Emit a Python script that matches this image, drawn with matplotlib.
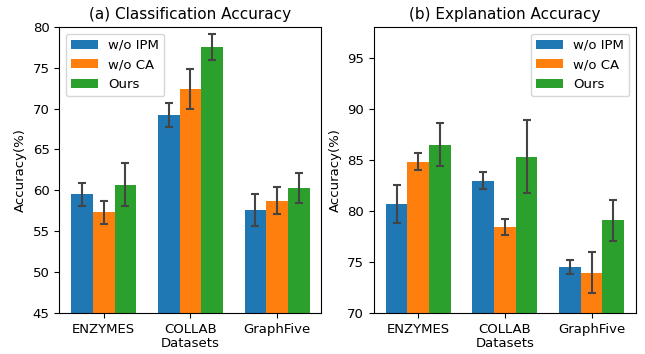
import numpy as np
import matplotlib
matplotlib.use('Agg')
import matplotlib.pyplot as plt

datasets = ['ENZYMES', 'COLLAB', 'GraphFive']
methods = ['w/o IPM', 'w/o CA', 'Ours']
colors = ['#1f77b4', '#ff7f0e', '#2ca02c']

# (a) classification accuracy, mean and std per method
cls_ipm = [59.5, 69.2, 57.6]
cls_ipm_err = [1.4, 1.5, 2.0]
cls_ca = [57.3, 72.4, 58.7]
cls_ca_err = [1.45, 2.5, 1.65]
cls_ours = [60.7, 77.5, 60.3]
cls_ours_err = [2.6, 1.6, 1.8]

# (b) explanation accuracy
exp_ipm = [80.65, 82.95, 74.5]
exp_ipm_err = [1.85, 0.85, 0.65]
exp_ca = [84.8, 78.4, 73.95]
exp_ca_err = [0.85, 0.75, 2.0]
exp_ours = [86.45, 85.3, 79.05]
exp_ours_err = [2.1, 3.6, 2.0]

plt.rcParams['font.size'] = 9.5

fig, axes = plt.subplots(1, 2, figsize=(6.45, 3.54), dpi=100)
fig.subplots_adjust(left=0.092, right=0.986, bottom=0.116, top=0.924, wspace=0.2)

x = np.arange(len(datasets))
w = 0.25
err_style = dict(ecolor='#444444', elinewidth=1.5, capsize=3, capthick=1.5)

panels = [
    (axes[0], [cls_ipm, cls_ca, cls_ours], [cls_ipm_err, cls_ca_err, cls_ours_err],
     '(a) Classification Accuracy', (45, 80), 'upper left'),
    (axes[1], [exp_ipm, exp_ca, exp_ours], [exp_ipm_err, exp_ca_err, exp_ours_err],
     '(b) Explanation Accuracy', (70, 98), 'upper right'),
]

for ax, vals, errs, title, ylim, loc in panels:
    for i in range(3):
        ax.bar(x + (i - 1) * w, vals[i], w, yerr=errs[i], color=colors[i],
               label=methods[i], error_kw=err_style)
    ax.set_title(title, fontsize=11)
    ax.set_ylim(*ylim)
    ax.set_xticks(x)
    ax.set_xticklabels(datasets)
    ax.set_xlabel('Datasets', labelpad=1)
    ax.set_ylabel('Accuracy(%)')
    ax.legend(loc=loc)

fig.savefig('out.png')
